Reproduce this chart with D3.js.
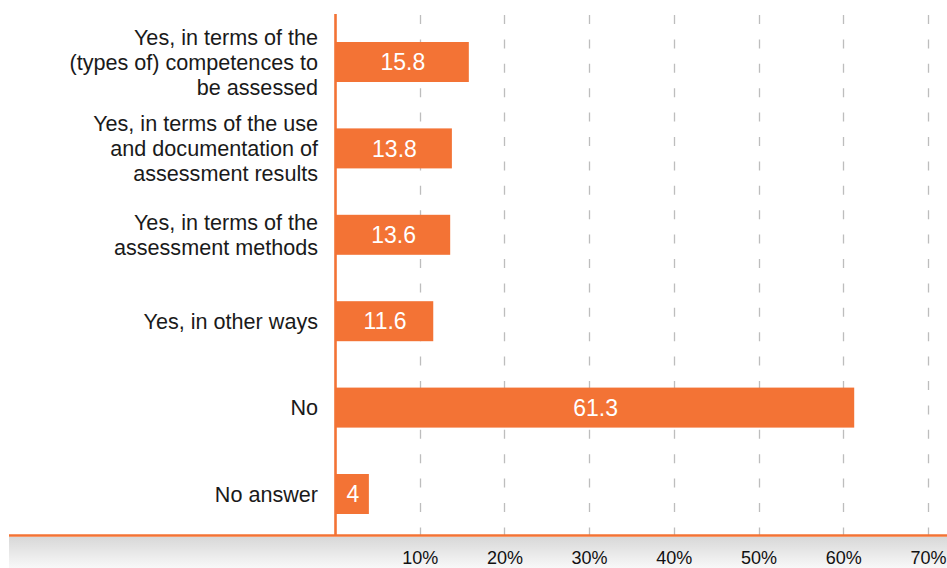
<!DOCTYPE html>
<html>
<head>
<meta charset="utf-8">
<script src="https://cdn.jsdelivr.net/npm/d3@7"></script>
<style>
  html, body { margin: 0; padding: 0; background: #fff; }
  svg { display: block; font-family: "Liberation Sans", Arial, Helvetica, sans-serif; }
</style>
</head>
<body>
<svg id="chart" width="947" height="568"></svg>
<script>
// ---- Data ----
const categories = [
  ["Yes, in terms of the", "(types of) competences to", "be assessed"],
  ["Yes, in terms of the use", "and documentation of", "assessment results"],
  ["Yes, in terms of the", "assessment methods"],
  ["Yes, in other ways"],
  ["No"],
  ["No answer"]
];
const values = [15.8, 13.8, 13.6, 11.6, 61.3, 4];
const tickValues = [10, 20, 30, 40, 50, 60, 70];
const tickLabels = ["10%", "20%", "30%", "40%", "50%", "60%", "70%"];

// ---- Layout ----
const W = 947, H = 568;
const x0 = 335, xMax = 927.9;
const yTop = 18.8, yBot = 537.2;
const axisY = 535.5;
const orange = "#F37335";

const svg = d3.select("#chart");

const defs = svg.append("defs");
const grad = defs.append("linearGradient").attr("id", "band").attr("x1", 0).attr("y1", 0).attr("x2", 0).attr("y2", 1);
grad.append("stop").attr("offset", "0%").attr("stop-color", "#d8d8d8");
grad.append("stop").attr("offset", "100%").attr("stop-color", "#f8f8f8");

const x = d3.scaleLinear().domain([0, 70]).range([x0, xMax]);
const idx = categories.map((d, i) => i);
const y = d3.scaleBand().domain(idx).range([yTop, yBot]).paddingInner(0.537).paddingOuter(0.2685);

// bottom gray band
svg.append("rect").attr("x", 9).attr("y", 537).attr("width", W - 9).attr("height", H - 537).attr("fill", "url(#band)");

// gridlines
svg.append("g").selectAll("line").data(tickValues).join("line")
  .attr("x1", d => Math.round(x(d)) + 0.5).attr("x2", d => Math.round(x(d)) + 0.5)
  .attr("y1", 15).attr("y2", axisY)
  .attr("stroke", "#bdbdbd").attr("stroke-width", 1.3)
  .attr("stroke-dasharray", "9,15.4");

// bars
svg.append("g").selectAll("rect").data(values).join("rect")
  .attr("x", x(0)).attr("y", (d, i) => y(i))
  .attr("width", d => x(d) - x(0)).attr("height", y.bandwidth())
  .attr("fill", orange);

// value labels
svg.append("g").selectAll("text").data(values).join("text")
  .attr("x", d => (x(0) + x(d)) / 2 + 1)
  .attr("y", (d, i) => y(i) + y.bandwidth() / 2)
  .attr("dy", "0.36em")
  .attr("text-anchor", "middle")
  .attr("fill", "#fff").attr("font-size", 23)
  .text(d => String(d));

// category labels
const lineH = 25;
const lab = svg.append("g").selectAll("text").data(categories).join("text")
  .attr("text-anchor", "end").attr("fill", "#1a1a1a").attr("font-size", 21.6)
  .attr("transform", (d, i) => `translate(318,${y(i) + y.bandwidth() / 2})`);
lab.each(function(lines) {
  const t = d3.select(this);
  const off = -(lines.length - 1) / 2 * lineH;
  lines.forEach((ln, k) => {
    t.append("tspan").attr("x", 0).attr("y", off + k * lineH).attr("dy", "0.36em").text(ln);
  });
});

// axes lines
svg.append("line").attr("x1", 9).attr("x2", W).attr("y1", axisY).attr("y2", axisY)
  .attr("stroke", orange).attr("stroke-width", 2.6);
svg.append("line").attr("x1", x0 + 0.5).attr("x2", x0 + 0.5).attr("y1", 14).attr("y2", axisY)
  .attr("stroke", orange).attr("stroke-width", 2.6);

// x tick labels via axis
const xAxis = d3.axisBottom(x).tickValues(tickValues).tickSize(0).tickPadding(0)
  .tickFormat((d, i) => tickLabels[i]);
const gx = svg.append("g").attr("transform", "translate(0,551)").call(xAxis);
gx.select(".domain").remove();
gx.selectAll("text").attr("font-size", 18).attr("fill", "#111")
  .attr("font-family", "'Liberation Sans', Arial, Helvetica, sans-serif").attr("dy", "0.71em");
</script>
</body>
</html>
